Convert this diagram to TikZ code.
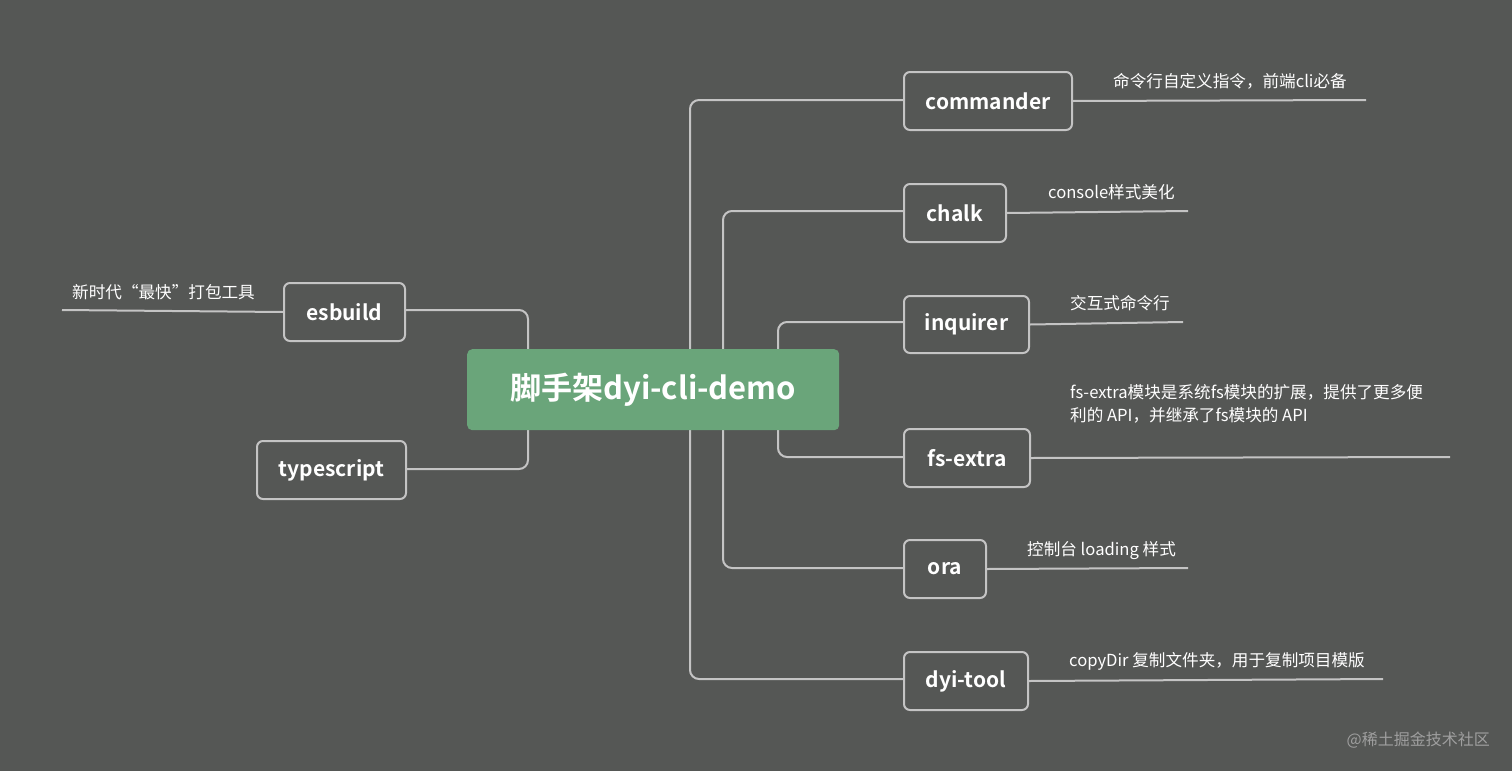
\documentclass[tikz,border=0pt]{standalone}
\usepackage{fontspec}
\setmainfont{Noto Sans CJK SC}
\newfontfamily\cjkb{Noto Sans CJK SC Bold}
\definecolor{bg}{HTML}{555755}
\definecolor{ln}{HTML}{C4C4C4}
\definecolor{gr}{HTML}{6AA57A}
\begin{document}
\begin{tikzpicture}[x=1pt,y=-1pt,
  box/.style={draw=ln,line width=2pt,fill=bg,rounded corners=6pt,text=white,font=\cjkb\fontsize{21}{24}\selectfont,inner sep=0pt,anchor=north west},
  conn/.style={draw=ln,line width=2pt,rounded corners=9pt},
  note/.style={text=white,font=\fontsize{16.6}{23}\selectfont,anchor=base west,inner sep=0pt,align=left}]
\fill[bg] (0,0) rectangle (1512,771);
\useasboundingbox (0,0) rectangle (1512,771);
% connectors (behind)
\coordinate (ct) at (528,349); \coordinate (cb) at (528,430);
\draw[conn] (903,100) -| (690,390) |- (903,679);
\draw[conn] (903,211) -| (723,390) |- (903,568);
\draw[conn] (903,322) -| (778,390) |- (903,457);
\draw[conn] (404,310) -| (ct);
\draw[conn] (405,469) -| (cb);
% center
\node[fill=gr,rounded corners=5pt,minimum width=372pt,minimum height=81pt,anchor=north west,inner sep=0pt,text=white,font=\cjkb\fontsize{31}{34}\selectfont] (main) at (467,349) {脚手架dyi-cli-demo};
% boxes
\node[box,minimum width=168pt,minimum height=58pt] (commander) at (903,71) {commander};
\node[box,minimum width=102pt,minimum height=58pt] (chalk) at (903,183) {chalk};
\node[box,minimum width=125pt,minimum height=57pt] (inquirer) at (903,295) {inquirer};
\node[box,minimum width=126pt,minimum height=58pt] (fsextra) at (903,428) {fs-extra};
\node[box,minimum width=82pt,minimum height=58pt] (ora) at (903,539) {ora};
\node[box,minimum width=124pt,minimum height=58pt] (dyitool) at (903,651) {dyi-tool};
\node[box,minimum width=121pt,minimum height=58pt] (esbuild) at (283,282) {esbuild};
\node[box,minimum width=149pt,minimum height=58pt] (typescript) at (256,440) {typescript};
% note lines
\coordinate (e1) at (1366,100); \coordinate (e2) at (1188,211); \coordinate (e3) at (1183,322);
\coordinate (e4) at (1450,457); \coordinate (e5) at (1188,568); \coordinate (e6) at (1383,679);
\coordinate (e7) at (62,310);
\draw[conn] (commander.east) -- (e1);
\draw[conn] (chalk.east) -- (e2);
\draw[conn] (inquirer.east) -- (e3);
\draw[conn] (fsextra.east) -- (e4);
\draw[conn] (ora.east) -- (e5);
\draw[conn] (dyitool.east) -- (e6);
\draw[conn] (esbuild.west) -- (e7);
% notes
\node[note] (n1) at (1113,87) {命令行自定义指令，前端cli必备};
\node[note] (n2) at (1048,198) {console样式美化};
\node[note] (n3) at (1070,309) {交互式命令行};
\node[note] (n4) at (1070,421) {fs-extra模块是系统fs模块的扩展，提供了更多便\\利的 API，并继承了fs模块的 API};
\node[note] (n5) at (1027,555) {控制台 loading 样式};
\node[note] (n6) at (1069,666) {copyDir 复制文件夹，用于复制项目模版};
\node[note] (n7) at (72,298) {新时代“最快”打包工具};
\node[text=gray!75,font=\fontsize{16}{20}\selectfont,anchor=base east,inner sep=0pt] (wm) at (1490,745) {@稀土掘金技术社区};
\end{tikzpicture}
\end{document}
